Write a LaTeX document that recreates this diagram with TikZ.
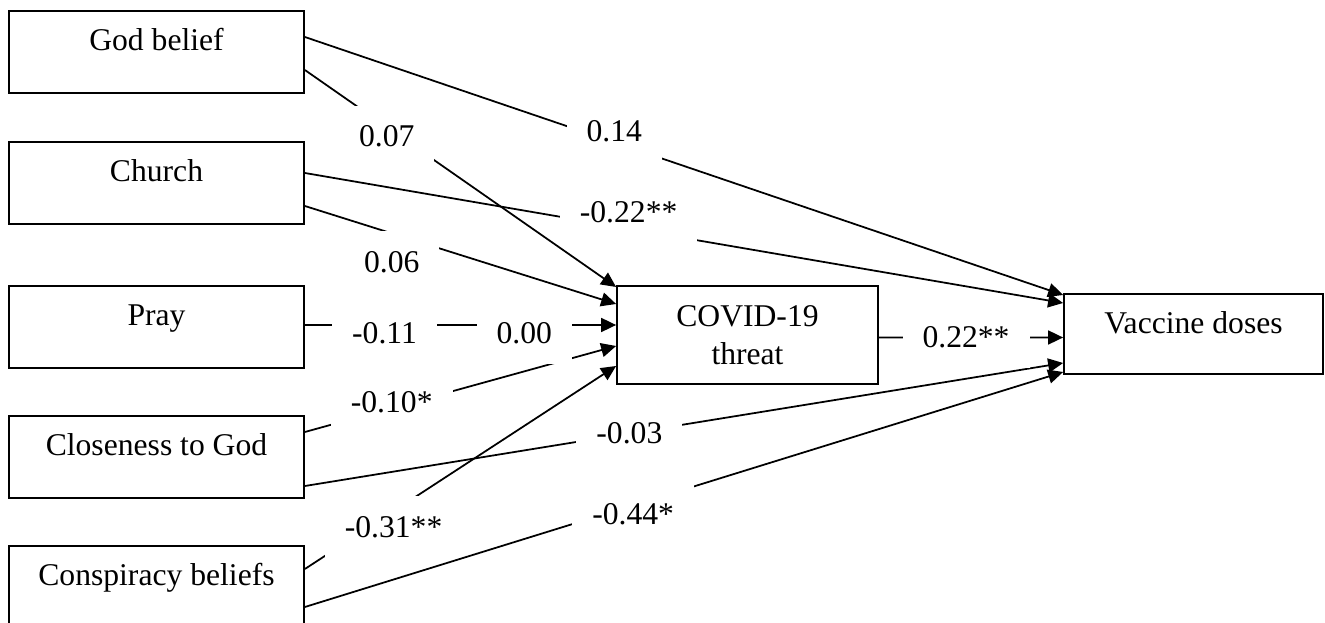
\documentclass[tikz,border=0pt]{standalone}
\usepackage{fontspec}
\setmainfont{Liberation Serif}
\usetikzlibrary{arrows.meta}
\tikzset{
  var/.style={draw,inner sep=0pt,minimum width=5.9cm,text height=0.8cm,text depth=0.84cm},
  coef/.style={fill=white,inner sep=0.4cm},
}
\begin{document}
\begin{tikzpicture}[x=1cm,y=1cm,line width=1pt,>={Triangle[length=3mm,width=2.8mm]},font=\fontsize{18}{21.5}\selectfont]
	\useasboundingbox (0,0) rectangle (26.5,12.44);
	% predictors
	\node[var,anchor=north] (god) at (3.13,12.24) {God belief};
	\node[var,anchor=north] (church) at (3.13,9.62) {Church};
	\node[var,anchor=north] (pray) at (3.13,6.74) {Pray};
	\node[var,anchor=north] (close) at (3.13,4.14) {Closeness to God};
	\node[var,anchor=north] (consp) at (3.13,1.54) {Conspiracy beliefs};
	% mediator and outcome
	\node[draw,anchor=north,minimum width=5.22cm,minimum height=1.96cm,align=center] (threat) at (14.95,6.74) {COVID-19\\threat};
	\node[var,anchor=north,minimum width=5.18cm,text depth=0.8cm] (vacc) at (23.87,6.58) {Vaccine doses};
	% paths
	\draw[->] ([yshift=-0.54cm]god.north east)--node[coef,pos=0.408,yshift=0.23cm]{0.14}([yshift=-0.04cm]vacc.north west);
	\draw[->] ([yshift=-1.2cm]god.north east)--node[coef,pos=0.263,yshift=-0.19cm]{0.07}([yshift=-0.04cm]threat.north west);
	\draw[->] ([yshift=-0.64cm]church.north east)--node[coef,pos=0.427,yshift=0.33cm]{-0.22**}([yshift=-0.2cm]vacc.north west);
	\draw[->] ([yshift=-1.3cm]church.north east)--node[coef,pos=0.279,yshift=-0.57cm]{0.06}([yshift=-0.38cm]threat.north west);
	\draw[->] ([yshift=-0.34cm]close.north east)--node[coef,pos=0.279,yshift=0.11cm]{-0.10*}([yshift=-1.22cm]threat.north west);
	\draw[->] ([yshift=-1.42cm]close.north east)--node[coef,pos=0.428]{-0.03}([yshift=-1.4cm]vacc.north west);
	\draw[->] ([yshift=-0.48cm]consp.north east)--node[coef,pos=0.285,yshift=-0.32cm]{-0.31**}([yshift=-1.62cm]threat.north west);
	\draw[->] ([yshift=-1.24cm]consp.north east)--node[coef,pos=0.433,yshift=-0.17cm]{-0.44*}([yshift=-1.58cm]vacc.north west);
	\draw[->] ([yshift=-0.8cm]pray.north east)--node[coef,pos=0.256,yshift=-0.17cm]{-0.11} node[coef,pos=0.705,yshift=-0.17cm]{0.00}([yshift=-0.8cm]threat.north west);
	\draw[->] ([yshift=-1.05cm]threat.north east)--node[coef,pos=0.473]{0.22**}([yshift=-0.89cm]vacc.north west);
\end{tikzpicture}
\end{document}
